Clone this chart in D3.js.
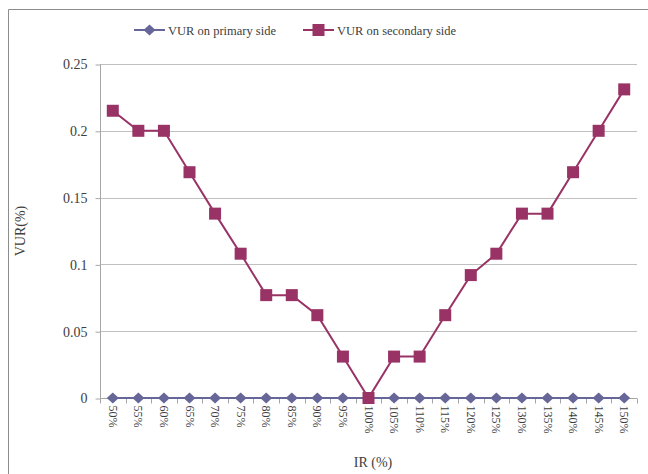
<!DOCTYPE html>
<html>
<head>
<meta charset="utf-8">
<script src="https://cdn.jsdelivr.net/npm/d3@7"></script>
<style>
  body { margin: 0; background: #fff; }
  text { font-family: "Liberation Serif", "DejaVu Serif", serif; fill: #404040; }
</style>
</head>
<body>
<div id="graph"></div>
<script>
var width = 648, height = 474

var categories = ['50%','55%','60%','65%','70%','75%','80%','85%','90%','95%','100%',
  '105%','110%','115%','120%','125%','130%','135%','140%','145%','150%']
var primary = [0,0,0,0,0,0,0,0,0,0,0,0,0,0,0,0,0,0,0,0,0]
var secondary = [0.215,0.2,0.2,0.169,0.138,0.108,0.077,0.077,0.062,0.031,0,
  0.031,0.031,0.062,0.092,0.108,0.138,0.138,0.169,0.2,0.231]
var yTicks = [0, 0.05, 0.1, 0.15, 0.2, 0.25]

var series = [
  {name: 'VUR on primary side', values: primary, color: '#666699', shape: 'diamond'},
  {name: 'VUR on secondary side', values: secondary, color: '#993366', shape: 'square'}
]

var margin = {left: 100, right: 11, top: 64, bottom: 76}

var svg = d3.select('#graph').append('svg')
    .attr('width', width).attr('height', height)

// outer chart border (right and bottom run off the page)
svg.append('path')
    .attr('d', 'M8.5,' + (height + 2) + 'V9.5H' + (width + 2))
    .attr('fill', 'none').attr('stroke', '#8c8c8c').attr('stroke-width', 1)

var x = d3.scaleBand().domain(categories)
    .range([margin.left, width - margin.right])
var y = d3.scaleLinear().domain([0, 0.25])
    .range([height - margin.bottom, margin.top])

// gridlines
svg.append('g').selectAll('line').data(yTicks.slice(1)).join('line')
    .attr('x1', margin.left).attr('x2', width - margin.right)
    .attr('y1', function(d){ return Math.round(y(d)) + 0.5 })
    .attr('y2', function(d){ return Math.round(y(d)) + 0.5 })
    .attr('stroke', '#c0c0c0')

// y axis
var yAxis = svg.append('g')
    .attr('transform', 'translate(' + (margin.left + 0.5) + ',0.5)')
    .call(d3.axisLeft(y).tickValues(yTicks).tickSize(5).tickPadding(8)
      .tickFormat(function(d){ return d === 0 ? '0' : String(+d.toFixed(2)) }))
yAxis.selectAll('path, line').attr('stroke', '#a6a6a6')
yAxis.select('.domain').attr('d', 'M0,' + Math.round(y(0.25)) + 'V' + Math.round(y(0)))
yAxis.selectAll('text').style('font-size', '14px')
    .style('font-family', '"Liberation Serif", serif').attr('fill', '#404040')

// x axis
var bottomY = Math.round(y(0)) + 0.5
var xg = svg.append('g')
xg.append('line')
    .attr('x1', margin.left).attr('x2', width - margin.right)
    .attr('y1', bottomY).attr('y2', bottomY).attr('stroke', '#a6a6a6')
var bounds = categories.map(function(c){ return x(c) }).concat([width - margin.right])
xg.selectAll('line.tick').data(bounds).join('line').attr('class', 'tick')
    .attr('x1', function(d){ return Math.round(d) + 0.5 })
    .attr('x2', function(d){ return Math.round(d) + 0.5 })
    .attr('y1', bottomY).attr('y2', bottomY + 5).attr('stroke', '#a6a6a6')
xg.selectAll('text').data(categories).join('text')
    .attr('transform', function(d){
      return 'translate(' + (x(d) + x.bandwidth() / 2 - 4) + ',' + (bottomY + 7) + ') rotate(90)'
    })
    .attr('text-anchor', 'start')
    .style('font-size', '12px')
    .text(function(d){ return d })

// axis titles
svg.append('text')
    .attr('x', 373).attr('y', 467)
    .attr('text-anchor', 'middle').style('font-size', '14px')
    .text('IR (%)')
svg.append('text')
    .attr('transform', 'translate(25,' + ((y(0) + y(0.25)) / 2) + ') rotate(-90)')
    .attr('text-anchor', 'middle').style('font-size', '14px')
    .text('VUR(%)')

var line = d3.line()
    .x(function(d, i){ return x(categories[i]) + x.bandwidth() / 2 })
    .y(function(d){ return y(d) })

function marker(sel, shape, color){
  if (shape === 'square'){
    sel.append('rect').attr('x', -6).attr('y', -6).attr('width', 12).attr('height', 12)
      .attr('fill', color)
  } else {
    sel.append('path').attr('d', 'M0,-5.5L6,0L0,5.5L-6,0Z').attr('fill', color)
  }
}

series.forEach(function(s){
  var g = svg.append('g')
  g.append('path').datum(s.values)
      .attr('d', line).attr('fill', 'none')
      .attr('stroke', s.color).attr('stroke-width', 2)
  g.selectAll('g').data(s.values).join('g')
      .attr('transform', function(d, i){
        return 'translate(' + (x(categories[i]) + x.bandwidth() / 2) + ',' + y(d) + ')'
      })
      .each(function(){ marker(d3.select(this), s.shape, s.color) })
})

// legend
var legendX = [134, 303]
series.forEach(function(s, i){
  var g = svg.append('g').attr('transform', 'translate(' + legendX[i] + ',30)')
  g.append('line').attr('x1', 0).attr('x2', 31).attr('stroke', s.color).attr('stroke-width', 2)
  var m = g.append('g').attr('transform', 'translate(15.5,0)')
  marker(m, s.shape, s.color)
  g.append('text').attr('x', 34).attr('y', 5).style('font-size', '12.5px').text(s.name)
})
</script>
</body>
</html>
